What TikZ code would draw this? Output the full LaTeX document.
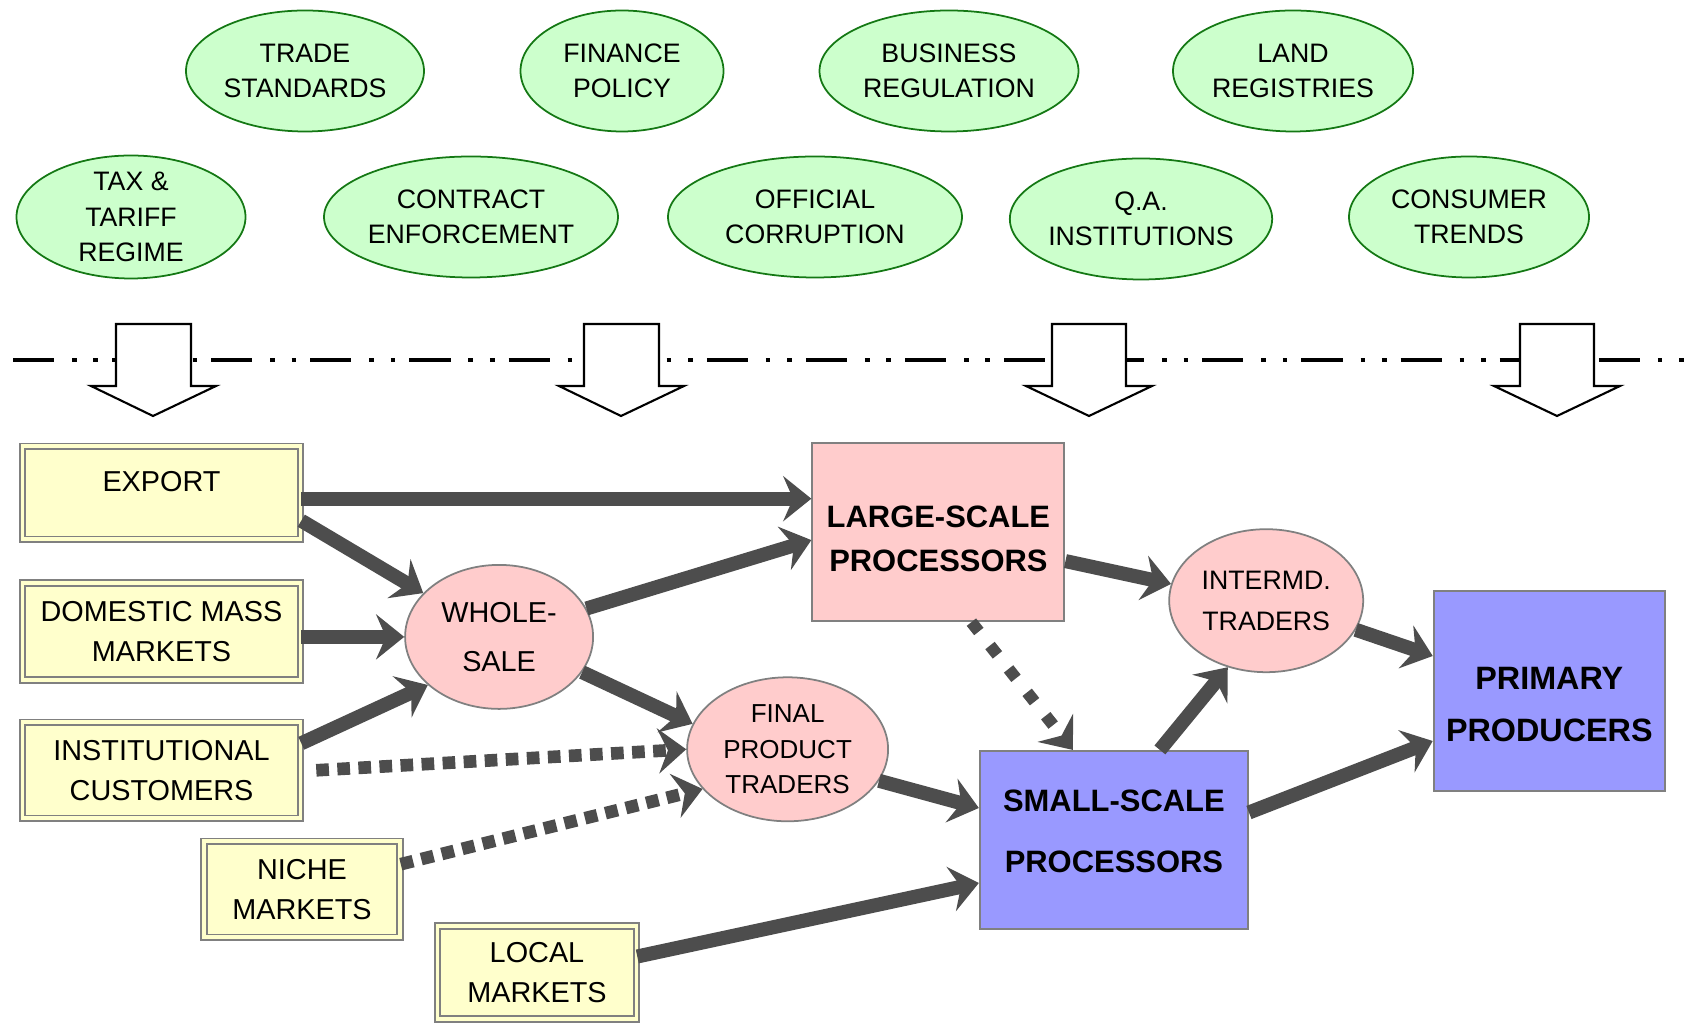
\documentclass[tikz,border=0pt]{standalone}
\usepackage{fontspec}
\setmainfont{Liberation Sans}
\usepackage{tikz}
\usetikzlibrary{shapes.geometric, arrows.meta}

\definecolor{bubblegreen}{RGB}{204,255,204}
\definecolor{bubbleline}{RGB}{20,120,20}
\definecolor{marketyellow}{RGB}{255,255,204}
\definecolor{traderpink}{RGB}{255,204,204}
\definecolor{producerblue}{RGB}{153,153,255}
\definecolor{flowgray}{RGB}{77,77,77}

\begin{document}
\begin{tikzpicture}[
  bubble/.style={ellipse, draw=bubbleline, fill=bubblegreen, line width=0.5pt, inner sep=0pt,
    minimum height=1.21cm, align=center, font=\fontsize{7.6}{10}\selectfont},
  market/.style={rectangle, draw=gray, double=marketyellow, double distance=1.1pt, line width=0.45pt,
    fill=marketyellow, inner sep=0pt, align=center, font=\fontsize{8.2}{11.4}\selectfont},
  trader/.style={ellipse, draw=gray, fill=traderpink, line width=0.5pt, inner sep=0pt, align=center},
  processor/.style={rectangle, draw=gray, line width=0.6pt, inner sep=0pt, align=center},
  flow/.style={draw=flowgray, line width=4pt, -{Stealth[length=8pt, width=12.8pt, inset=2.8pt]}},
  dotflow/.style={flow, line width=3.6pt, dash pattern=on 3.6pt off 2.4pt},
  diamondflow/.style={flow, line width=3.4pt, dash pattern=on 3.4pt off 5.1pt},
  shutter/.style={draw=black, line width=0.6pt, fill=white}
]
\useasboundingbox (0,0) rectangle (16.94,-10.23);

%the outside influences
\node[bubble, minimum width=2.38cm] (ts) at (3.05,-0.71) {TRADE\\STANDARDS};
\node[bubble, minimum width=2.03cm] (fp) at (6.22,-0.71) {FINANCE\\POLICY};
\node[bubble, minimum width=2.59cm] (br) at (9.49,-0.71) {BUSINESS\\REGULATION};
\node[bubble, minimum width=2.40cm] (lr) at (12.93,-0.71) {LAND\\REGISTRIES};
\node[bubble, minimum width=2.29cm, minimum height=1.23cm, inner ysep=-3pt] (tt) at (1.31,-2.17) {TAX \&\\TARIFF\\REGIME};
\node[bubble, minimum width=2.94cm] (ce) at (4.71,-2.17) {CONTRACT\\ENFORCEMENT};
\node[bubble, minimum width=2.94cm] (oc) at (8.15,-2.17) {OFFICIAL\\CORRUPTION};
\node[bubble, minimum width=2.59cm] (qa) at (11.41,-2.19) {Q.A.\\INSTITUTIONS};
\node[bubble, minimum width=2.40cm] (ct) at (14.69,-2.17) {CONSUMER\\TRENDS};

%the boundary
\draw[black, line width=1.3pt, dash pattern=on 11.7pt off 5.1pt on 1.3pt off 4.8pt on 1.3pt off 4pt] (0.13,-3.6) -- (16.94,-3.6);

%the block arrows
\draw[shutter] (1.16,-3.24) -- (1.91,-3.24) -- (1.91,-3.86) -- (2.16,-3.86) -- (1.53,-4.16) -- (0.91,-3.86) -- (1.16,-3.86) -- cycle;
\draw[shutter] (5.84,-3.24) -- (6.59,-3.24) -- (6.59,-3.86) -- (6.84,-3.86) -- (6.21,-4.16) -- (5.59,-3.86) -- (5.84,-3.86) -- cycle;
\draw[shutter] (10.52,-3.24) -- (11.26,-3.24) -- (11.26,-3.86) -- (11.52,-3.86) -- (10.89,-4.16) -- (10.26,-3.86) -- (10.52,-3.86) -- cycle;
\draw[shutter] (15.20,-3.24) -- (15.94,-3.24) -- (15.94,-3.86) -- (16.20,-3.86) -- (15.57,-4.16) -- (14.94,-3.86) -- (15.20,-3.86) -- cycle;

%the markets
\node[market, minimum width=2.78cm, minimum height=0.93cm] (exp) at (1.615,-4.927) {EXPORT\\[-5pt]\mbox{}};
\node[market, minimum width=2.78cm, minimum height=0.97cm] (dom) at (1.615,-6.315) {DOMESTIC MASS\\MARKETS};
\node[market, minimum width=2.78cm, minimum height=0.96cm] (ins) at (1.615,-7.703) {INSTITUTIONAL\\CUSTOMERS};
\node[market, minimum width=1.96cm, minimum height=0.96cm] (nic) at (3.02,-8.892) {NICHE\\MARKETS};
\node[market, minimum width=1.99cm, minimum height=0.93cm] (loc) at (5.37,-9.725) {LOCAL\\MARKETS};

%the processors and producers
\node[processor, fill=traderpink, minimum width=2.52cm, minimum height=1.78cm,
  font=\bfseries\fontsize{8.8}{12.6}\selectfont] (lsp) at (9.384,-5.321) {\rule{0pt}{10pt}LARGE-SCALE\\PROCESSORS};
\node[processor, fill=producerblue, minimum width=2.68cm, minimum height=1.78cm,
  font=\bfseries\fontsize{8.8}{17.5}\selectfont] (ssp) at (11.139,-8.40) {SMALL-SCALE\\PROCESSORS\rule[-5pt]{0pt}{5pt}};
\node[processor, fill=producerblue, minimum width=2.31cm, minimum height=2.0cm,
  font=\bfseries\fontsize{9.2}{15}\selectfont] (ppr) at (15.493,-6.91) {\rule{0pt}{14pt}PRIMARY\\PRODUCERS};

%the traders
\node[trader, minimum width=1.88cm, minimum height=1.44cm, font=\fontsize{8.2}{14}\selectfont] (whs) at (4.991,-6.369) {WHOLE-\\SALE};
\node[trader, minimum width=2.01cm, minimum height=1.44cm, font=\fontsize{7.4}{10}\selectfont] (fpt) at (7.876,-7.493) {FINAL\\PRODUCT\\TRADERS};
\node[trader, minimum width=1.94cm, minimum height=1.43cm, font=\fontsize{7.6}{11.7}\selectfont] (itr) at (12.662,-6.007) {INTERMD.\\TRADERS};

%the flows
\draw[flow] ([yshift=-0.6mm]exp.east) -- ([yshift=-0.6mm]exp.east -| lsp.west);
\draw[flow] ([yshift=-2.8mm]exp.east) -- (whs.150);
\draw[flow] (dom.east |- whs.west) -- (whs.west);
\draw[flow] ([yshift=2.7mm]ins.east) -- (whs.214);
\draw[flow] (whs.18) -- ([yshift=-0.8mm]lsp.west);
\draw[flow] (whs.-23) -- (fpt.165);
\draw[dotflow] ([xshift=1.5mm]ins.east) -- (fpt.west);
\draw[dotflow] ([yshift=2.5mm]nic.east) -- (fpt.205);
\draw[flow] (fpt.-19) -- ([yshift=3.2mm]ssp.west);
\draw[flow] ([yshift=1.6mm]loc.east) -- ([yshift=-4.3mm]ssp.west);
\draw[flow] ([yshift=-2.9mm]lsp.east) -- (itr.170);
\draw[diamondflow] ([xshift=3.3mm]lsp.south) -- ([xshift=-4.1mm]ssp.north);
\draw[flow] ([xshift=4.6mm]ssp.north) -- (itr.240);
\draw[flow] (itr.-18) -- ([yshift=3.5mm]ppr.west);
\draw[flow] ([yshift=2.75mm]ssp.east) -- ([yshift=-5mm]ppr.west);
\end{tikzpicture}
\end{document}
